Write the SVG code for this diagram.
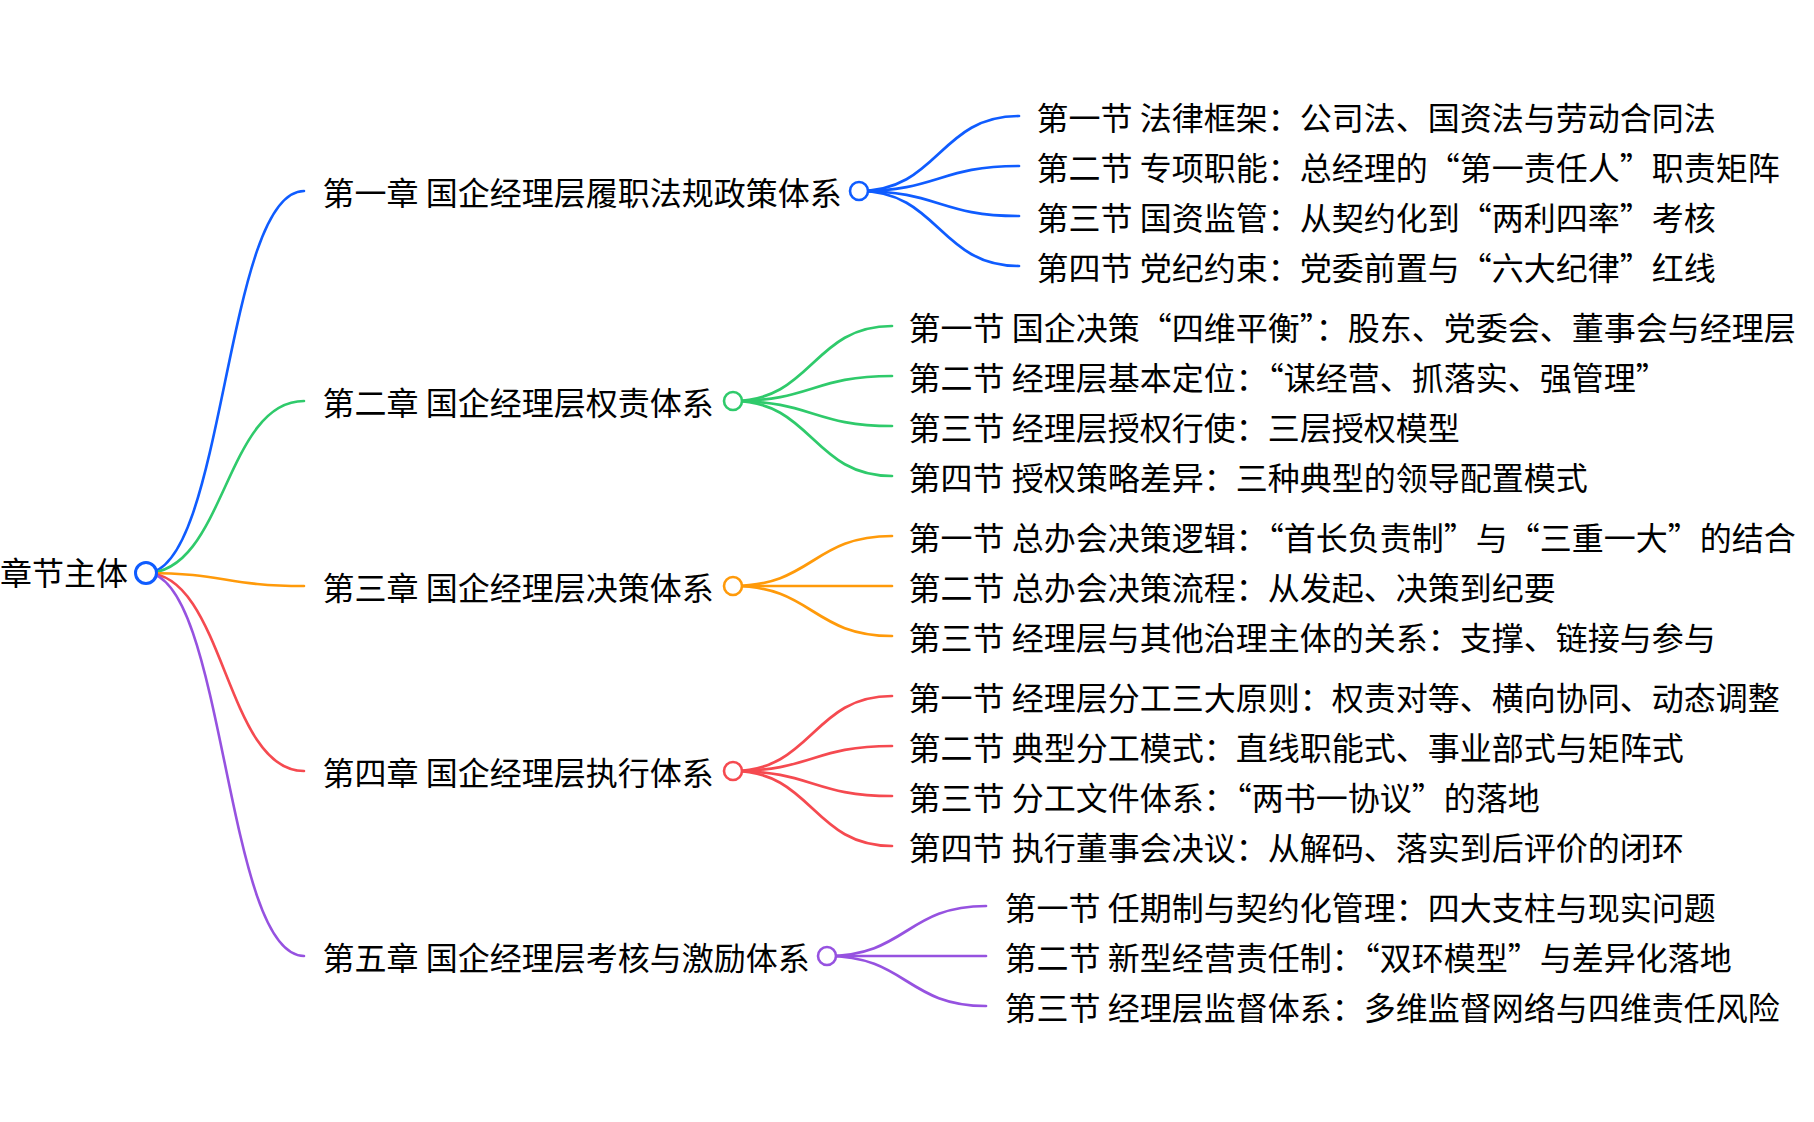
<svg xmlns="http://www.w3.org/2000/svg" width="1814" height="1122" viewBox="0 0 1814 1122">
<style>
text{font-family:"Noto Sans CJK SC","Noto Sans",sans-serif;font-size:32px;fill:#000}
.l1{fill:none;stroke-width:2.6;stroke-linecap:round}
.l2{fill:none;stroke-width:2.7;stroke-linecap:round}
.c{fill:#fff;stroke-width:2.6}
.blue{stroke:#0f5cff}.green{stroke:#2fca6b}.orange{stroke:#ff9a0a}.red{stroke:#f54a50}.purple{stroke:#9652e0}
</style>
<rect width="1814" height="1122" fill="#fff"/>
<g id="connectors">
<path class="l1 blue" d="M146,573 C225,573 225,191 304,191"/>
<path class="l1 green" d="M146,573 C225,573 225,401 304,401"/>
<path class="l1 orange" d="M146,573 C225,573 225,586 304,586"/>
<path class="l1 red" d="M146,573 C225,573 225,771 304,771"/>
<path class="l1 purple" d="M146,573 C225,573 225,956 304,956"/>
<path class="l2 blue" d="M859,191 C939,191 939,116 1019,116"/>
<path class="l2 blue" d="M859,191 C939,191 939,166 1019,166"/>
<path class="l2 blue" d="M859,191 C939,191 939,216 1019,216"/>
<path class="l2 blue" d="M859,191 C939,191 939,266 1019,266"/>
<path class="l2 green" d="M733,401 C812.5,401 812.5,326 892,326"/>
<path class="l2 green" d="M733,401 C812.5,401 812.5,376 892,376"/>
<path class="l2 green" d="M733,401 C812.5,401 812.5,426 892,426"/>
<path class="l2 green" d="M733,401 C812.5,401 812.5,476 892,476"/>
<path class="l2 orange" d="M733,586 C812.5,586 812.5,536 892,536"/>
<path class="l2 orange" d="M733,586 L892,586"/>
<path class="l2 orange" d="M733,586 C812.5,586 812.5,636 892,636"/>
<path class="l2 red" d="M733,771 C812.5,771 812.5,696 892,696"/>
<path class="l2 red" d="M733,771 C812.5,771 812.5,746 892,746"/>
<path class="l2 red" d="M733,771 C812.5,771 812.5,796 892,796"/>
<path class="l2 red" d="M733,771 C812.5,771 812.5,846 892,846"/>
<path class="l2 purple" d="M827,956 C906.5,956 906.5,906 986,906"/>
<path class="l2 purple" d="M827,956 L986,956"/>
<path class="l2 purple" d="M827,956 C906.5,956 906.5,1006 986,1006"/>
</g>
<g id="root">
<text x="128" y="585" text-anchor="end">章节主体</text>
<circle class="c blue" cx="146" cy="573" r="10.5" style="stroke-width:3"/>
</g>
<g id="ch1">
<text x="322.5" y="204.5">第一章 国企经理层履职法规政策体系</text>
<circle class="c blue" cx="859" cy="191" r="9"/>
</g>
<g id="ch2">
<text x="322.5" y="414.5">第二章 国企经理层权责体系</text>
<circle class="c green" cx="733" cy="401" r="9"/>
</g>
<g id="ch3">
<text x="322.5" y="599.5">第三章 国企经理层决策体系</text>
<circle class="c orange" cx="733" cy="586" r="9"/>
</g>
<g id="ch4">
<text x="322.5" y="784.5">第四章 国企经理层执行体系</text>
<circle class="c red" cx="733" cy="771" r="9"/>
</g>
<g id="ch5">
<text x="322.5" y="969.5">第五章 国企经理层考核与激励体系</text>
<circle class="c purple" cx="827" cy="956" r="9"/>
</g>
<g id="s1-1"><text x="1036.5" y="129.5">第一节 法律框架：公司法、国资法与劳动合同法</text></g>
<g id="s1-2"><text x="1036.5" y="179.5">第二节 专项职能：总经理的“第一责任人”职责矩阵</text></g>
<g id="s1-3"><text x="1036.5" y="229.5">第三节 国资监管：从契约化到“两利四率”考核</text></g>
<g id="s1-4"><text x="1036.5" y="279.5">第四节 党纪约束：党委前置与“六大纪律”红线</text></g>
<g id="s2-1"><text x="908.5" y="339.5">第一节 国企决策“四维平衡”：股东、党委会、董事会与经理层</text></g>
<g id="s2-2"><text x="908.5" y="389.5">第二节 经理层基本定位：“谋经营、抓落实、强管理”</text></g>
<g id="s2-3"><text x="908.5" y="439.5">第三节 经理层授权行使：三层授权模型</text></g>
<g id="s2-4"><text x="908.5" y="489.5">第四节 授权策略差异：三种典型的领导配置模式</text></g>
<g id="s3-1"><text x="908.5" y="549.5">第一节 总办会决策逻辑：“首长负责制”与“三重一大”的结合</text></g>
<g id="s3-2"><text x="908.5" y="599.5">第二节 总办会决策流程：从发起、决策到纪要</text></g>
<g id="s3-3"><text x="908.5" y="649.5">第三节 经理层与其他治理主体的关系：支撑、链接与参与</text></g>
<g id="s4-1"><text x="908.5" y="709.5">第一节 经理层分工三大原则：权责对等、横向协同、动态调整</text></g>
<g id="s4-2"><text x="908.5" y="759.5">第二节 典型分工模式：直线职能式、事业部式与矩阵式</text></g>
<g id="s4-3"><text x="908.5" y="809.5">第三节 分工文件体系：“两书一协议”的落地</text></g>
<g id="s4-4"><text x="908.5" y="859.5">第四节 执行董事会决议：从解码、落实到后评价的闭环</text></g>
<g id="s5-1"><text x="1004.5" y="919.5">第一节 任期制与契约化管理：四大支柱与现实问题</text></g>
<g id="s5-2"><text x="1004.5" y="969.5">第二节 新型经营责任制：“双环模型”与差异化落地</text></g>
<g id="s5-3"><text x="1004.5" y="1019.5">第三节 经理层监督体系：多维监督网络与四维责任风险</text></g>
</svg>
